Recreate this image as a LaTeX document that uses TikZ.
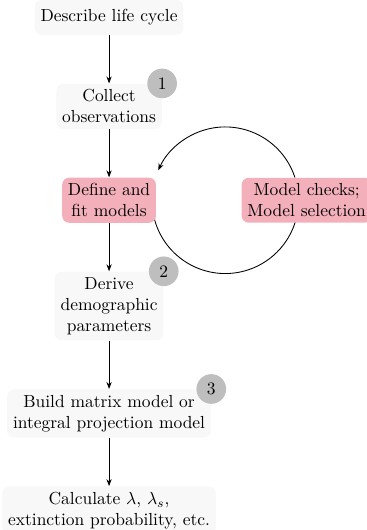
\documentclass[tikz,border=0pt]{standalone}
\usepackage{tikz}
\definecolor{MyBox}{HTML}{F8F8F8}
\definecolor{MyPink}{HTML}{F4B0BA}
\definecolor{MyBadge}{HTML}{BEBEBE}
\usetikzlibrary{calc,arrows.meta,backgrounds,positioning}
\tikzset{%
  link/.style={-{Stealth[length=4pt,width=3pt]},line width=0.5pt},
  stage/.style={rectangle, rounded corners=4pt, fill=#1, align=center, minimum height=2em},
  stage/.default=MyBox,
  badge/.style={circle, fill=MyBadge, minimum size=17pt, inner sep=0pt}
}
\begin{document}
\begin{tikzpicture}[node distance=27.6pt]

 % page frame: the last box runs off the bottom edge
 \useasboundingbox (-62.5pt,10pt) rectangle (147.3pt,-293.7pt);

 \node[stage] at (0,0) (describe) {Describe life cycle};
 \node[stage, below=of describe] (collect) {Collect\\observations};
 \node[stage=MyPink, below=of collect] (define) {Define and\\fit models};
 \node[stage=MyPink, right=48.7pt of define] (check) {Model checks;\\Model selection};
 \node[stage, below=of define] (derive) {Derive\\demographic\\parameters};
 \node[stage, below=of derive] (build) {Build matrix model or\\integral projection model};
 \node[stage, below=of build] (calc) {Calculate $\lambda$, $\lambda_s$,\\extinction probability, etc.};

 \node[badge] at (collect.north east) (b1) {1};
 \node[badge] at (derive.north east) (b2) {2};
 \node[badge] at (build.north east) (b3) {3};

 \draw[link] (describe) to (collect);
 \draw[link] (collect) to (define);
 \draw[link] (define) to (derive);
 \draw[link] (derive) to (build);
 \draw[link] (build) to (calc);

 % loop between model fitting and checking
 \coordinate[right=39.5pt of define.east] (loopc);
 \begin{scope}[on background layer]
  \draw[link] (loopc) ++(18:42pt) arc[start angle=18, end angle=156, radius=42pt];
  \draw[line width=0.5pt] (loopc) ++(195:42pt) arc[start angle=195, end angle=345, radius=42pt];
 \end{scope}

\end{tikzpicture}
\end{document}
